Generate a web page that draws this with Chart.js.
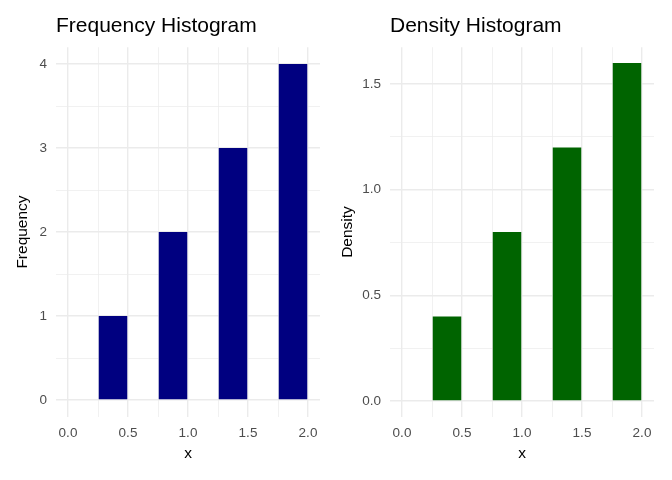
<!DOCTYPE html>
<html>
<head>
<meta charset="utf-8">
<script src="https://cdn.jsdelivr.net/npm/chart.js@4/dist/chart.umd.min.js"></script>
<style>
  html, body { margin: 0; padding: 0; background: #fff; }
  .wrap { display: flex; width: 672px; height: 480px; }
  canvas { display: block; }
</style>
</head>
<body>
<div class="wrap">
  <canvas id="freq" width="336" height="480"></canvas>
  <canvas id="dens" width="336" height="480"></canvas>
</div>
<script>
// histogram bins (left edges) and bin width
var binStarts = [0.25, 0.75, 1.25, 1.75];
var binWidth = 0.25;
var counts = [1, 2, 3, 4];
var densities = [0.4, 0.8, 1.2, 1.6];

// tick labels
var xTicks = [0, 0.5, 1, 1.5, 2];
var freqTicks = [0, 1, 2, 3, 4];
var densTicks = [0, 0.5, 1, 1.5];

var FONT = "'Liberation Sans', Arial, sans-serif";
var GRID = '#ebebeb';

// majors plus the minor lines halfway between them
var withMinor = function(major) {
  var out = [];
  for (var i = 0; i < major.length; i++) {
    out.push(major[i]);
    if (i < major.length - 1) out.push((major[i] + major[i + 1]) / 2);
  }
  return out;
};
var isMajor = function(list, v) {
  return list.some(function(m) { return Math.abs(m - v) < 1e-9; });
};

var makeChart = function(id, title, yTitle, values, color, yTicks, yMax, yDigits, area) {
  var xAll = withMinor(xTicks);
  var yAll = withMinor(yTicks);
  var yPad = (yTicks[yTicks.length - 1] - yTicks[0]) * 0.05;
  var points = binStarts.map(function(s, i) {
    return { x: s + binWidth / 2, y: values[i] };
  });
  return new Chart(document.getElementById(id), {
    type: 'bar',
    data: {
      datasets: [{
        data: points,
        backgroundColor: color,
        borderWidth: 0,
        // tick spacing (0.25) equals the bin width, so the bar fills it
        barPercentage: 0.95,
        categoryPercentage: 1
      }]
    },
    options: {
      responsive: false,
      animation: false,
      layout: { padding: { left: 0, right: area.right, top: 0, bottom: 0 } },
      plugins: {
        legend: { display: false },
        tooltip: { enabled: false },
        title: {
          display: true,
          text: title,
          align: 'start',
          fullSize: false,
          color: '#000',
          font: { family: FONT, size: 21, weight: 'normal' },
          padding: { top: 13.5, bottom: 8.5 }
        }
      },
      scales: {
        x: {
          type: 'linear',
          min: -0.1,
          max: 2.1,
          offset: false,
          afterBuildTicks: function(s) { s.ticks = xAll.map(function(v) { return { value: v }; }); },
          afterFit: function(s) { s.height = 63.2; },
          grid: {
            offset: false,
            drawTicks: false,
            color: GRID,
            lineWidth: function(c) { return isMajor(xTicks, c.tick.value) ? 1.4 : 0.7; }
          },
          border: { display: false },
          ticks: {
            autoSkip: false,
            maxRotation: 0,
            padding: 8,
            color: '#4d4d4d',
            font: { family: FONT, size: 13.5 },
            callback: function(v) { return isMajor(xTicks, v) ? v.toFixed(1) : ''; }
          },
          title: {
            display: true,
            text: 'x',
            color: '#000',
            font: { family: FONT, size: 15.5 },
            padding: { top: 0, bottom: 16.5 }
          }
        },
        y: {
          min: yTicks[0] - yPad,
          max: yMax + yPad,
          afterBuildTicks: function(s) { s.ticks = yAll.map(function(v) { return { value: v }; }); },
          afterFit: function(s) { s.width = area.left; },
          grid: {
            drawTicks: false,
            color: GRID,
            lineWidth: function(c) { return isMajor(yTicks, c.tick.value) ? 1.4 : 0.7; }
          },
          border: { display: false },
          ticks: {
            autoSkip: false,
            padding: 9,
            color: '#4d4d4d',
            font: { family: FONT, size: 13.5 },
            callback: function(v) { return isMajor(yTicks, v) ? v.toFixed(yDigits) : ''; }
          },
          title: {
            display: true,
            text: yTitle,
            color: '#000',
            font: { family: FONT, size: 15.5 },
            padding: { top: area.titlePad, bottom: 0 }
          }
        }
      }
    },
    plugins: [{
      id: 'bg',
      beforeDraw: function(c) {
        c.ctx.save();
        c.ctx.fillStyle = '#fff';
        c.ctx.fillRect(0, 0, c.width, c.height);
        c.ctx.restore();
      }
    }]
  });
};

makeChart('freq', 'Frequency Histogram', 'Frequency', counts, '#000080',
  freqTicks, 4, 0, { left: 56, right: 16, titlePad: 13 });
makeChart('dens', 'Density Histogram', 'Density', densities, '#006400',
  densTicks, 1.6, 1, { left: 54, right: 18, titlePad: 2 });
</script>
</body>
</html>
